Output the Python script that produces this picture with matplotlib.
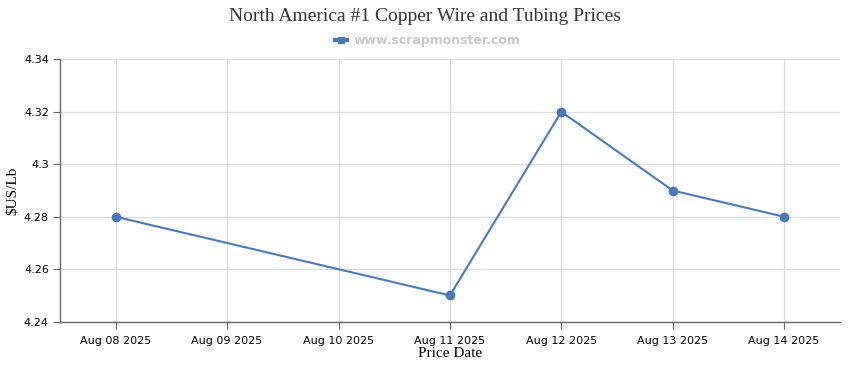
import matplotlib
matplotlib.use("Agg")
import matplotlib.pyplot as plt

dates = ["Aug 08 2025", "Aug 09 2025", "Aug 10 2025", "Aug 11 2025",
         "Aug 12 2025", "Aug 13 2025", "Aug 14 2025"]
price_dates = ["Aug 08 2025", "Aug 11 2025", "Aug 12 2025", "Aug 13 2025", "Aug 14 2025"]
prices = [4.28, 4.25, 4.32, 4.29, 4.28]
yticks = [4.24, 4.26, 4.28, 4.3, 4.32, 4.34]
ytick_labels = ["4.24", "4.26", "4.28", "4.3", "4.32", "4.34"]

line_color = "#4a7ab5"

fig = plt.figure(figsize=(8.5, 3.7), dpi=100)
ax = fig.add_axes([0.0706, 0.1305, 0.9174, 0.7092])

xpos = [dates.index(d) for d in price_dates]
ax.plot(xpos, prices, color=line_color, lw=1.5, marker="o", ms=6,
        label="www.scrapmonster.com", zorder=3)

ax.set_xlim(-0.5, len(dates) - 0.5)
ax.set_ylim(4.24, 4.34)
ax.set_xticks(range(len(dates)))
ax.set_xticklabels(dates, fontsize=8, color="#000000")
ax.set_yticks(yticks)
ax.set_yticklabels(ytick_labels, fontsize=8, color="#000000")

ax.grid(True, color="#dcdcdc", lw=0.9)
ax.set_axisbelow(True)
for s in ["top", "right"]:
    ax.spines[s].set_visible(False)
for s in ["left", "bottom"]:
    ax.spines[s].set_color("#666666")
    ax.spines[s].set_linewidth(1.0)
ax.tick_params(axis="x", length=5, color="#666666", pad=5)
ax.tick_params(axis="y", length=5, color="#666666", pad=3)

ax.set_xlabel("Price Date", family="Liberation Serif", fontsize=11, labelpad=1)
ax.set_ylabel("$US/Lb", family="Liberation Serif", fontsize=11, labelpad=3)

fig.suptitle("North America #1 Copper Wire and Tubing Prices",
             family="Liberation Serif", fontsize=14, y=0.978, color="#333333")

h, = ax.plot([], [], color=line_color, lw=3, marker="s", ms=5)
leg = fig.legend([h], ["www.scrapmonster.com"], loc="center",
                 bbox_to_anchor=(0.503, 0.89), frameon=False,
                 handlelength=1.0, handletextpad=0.5,
                 prop={"weight": "bold", "size": 9})
for t in leg.get_texts():
    t.set_color("#c8c8c8")

fig.savefig("out.png", dpi=100)
